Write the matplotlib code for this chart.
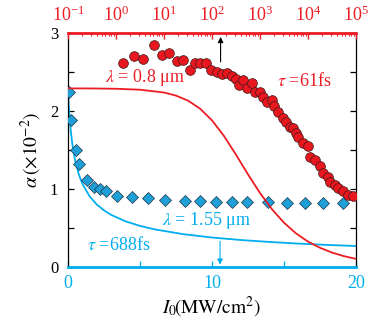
import matplotlib
matplotlib.use("Agg")
import matplotlib.pyplot as plt
from matplotlib.ticker import FixedLocator, MultipleLocator, LogLocator, LogFormatterMathtext, NullFormatter, FuncFormatter

plt.rcParams['font.family'] = ['Liberation Serif', 'DejaVu Serif']
plt.rcParams['mathtext.fontset'] = 'stix'

RED = '#ED1C24'
BLUE = '#00AEEF'

# ---- data: 0.8 um (top log axis) ----
red_I = [1.42, 2.37, 3.6, 6.3, 8.95, 12.9, 18.4, 25.3, 34.8, 44.3, 56.2, 75, 95.3,
         125, 159, 202, 257, 316, 371, 449, 528, 692, 787, 1000, 1173, 1380, 1754,
         1958, 2405, 3057, 3500, 4217, 4943, 5600, 6285, 7980, 10140, 11010, 14000,
         17780, 20850, 26500, 28700, 36500, 42800, 54300, 69200, 87900]
red_alpha = [2.62, 2.71, 2.67, 2.85, 2.72, 2.75, 2.64, 2.65, 2.53, 2.61, 2.62, 2.61, 2.53,
             2.50, 2.48, 2.49, 2.45, 2.41, 2.33, 2.40, 2.29, 2.36, 2.25, 2.25, 2.18, 2.12, 2.14,
             2.06, 1.99, 1.91, 1.86, 1.80, 1.78, 1.72, 1.67, 1.59, 1.55, 1.41, 1.37,
             1.29, 1.20, 1.16, 1.09, 1.05, 1.01, 0.97, 0.92, 0.91]
red_fit_I = [0.1, 0.316, 1, 3.16, 10, 17.8, 31.6, 56.2, 100, 178, 316, 562, 1000, 1780,
             3160, 5620, 10000, 17800, 31600, 56200, 100000]
red_fit_alpha = [2.29, 2.289, 2.285, 2.273, 2.237, 2.197, 2.133, 2.031, 1.880, 1.679, 1.440,
                 1.188, 0.948, 0.740, 0.568, 0.431, 0.326, 0.246, 0.185, 0.139, 0.104]

# ---- data: 1.55 um (bottom linear axis) ----
blue_I = [0.07, 0.21, 0.53, 0.79, 1.32, 1.83, 2.22, 2.62, 3.40, 4.47, 5.55, 6.74, 8.10,
          9.15, 10.28, 11.37, 12.41, 13.87, 15.19, 16.46, 17.73, 19.08]
blue_alpha = [2.25, 1.89, 1.50, 1.32, 1.12, 1.03, 1.00, 0.97, 0.91, 0.90, 0.89, 0.86, 0.85,
              0.84, 0.83, 0.83, 0.83, 0.83, 0.82, 0.82, 0.82, 0.82]
blue_fit_I = [0, 0.02, 0.05, 0.1, 0.2, 0.3, 0.4, 0.5, 0.75, 1.0, 1.5, 2.0, 2.5, 3.0, 4.0,
              5.0, 6.0, 8.0, 10, 12, 14, 16, 18, 20]
blue_fit_alpha = [2.25, 2.18, 2.078, 1.940, 1.731, 1.578, 1.462, 1.363, 1.188, 1.067, 0.906,
                  0.801, 0.726, 0.668, 0.585, 0.527, 0.483, 0.421, 0.378, 0.346, 0.321,
                  0.300, 0.283, 0.269]

bottom_ticks = [0, 5, 10, 15, 20]
bottom_labels = {0: '0', 10: '10', 20: '20'}
y_ticks = [0, 1, 2, 3]

arrow_red = (151, 2.63, 2.95)    # top-axis x, y start, y end
arrow_blue = (10.56, 0.33, 0.03)  # bottom-axis x, y start, y end

fig = plt.figure(figsize=(3.74, 3.31), dpi=100)
ax = fig.add_axes([68/374, 1-267/331, 288/374, 234/331])
ax2 = ax.twiny()

# blue on bottom axis
ax.plot(blue_fit_I, blue_fit_alpha, color=BLUE, lw=1.3, zorder=2)
ax.plot(blue_I, blue_alpha, linestyle='none', marker='D', markersize=5.8,
        markerfacecolor='#1E9FD8', markeredgecolor='#1d3445', markeredgewidth=0.5, zorder=3)
ax.set_xlim(0, 20)
ax.set_ylim(0, 3)

# red on top axis
ax2.set_xscale('log')
ax2.plot(red_fit_I, red_fit_alpha, color=RED, lw=1.3, zorder=2)
ax2.plot(red_I, red_alpha, linestyle='none', marker='o', markersize=7.0,
         markerfacecolor='#E8161E', markeredgecolor='#3a1a1a', markeredgewidth=0.5, zorder=3)
ax2.set_xlim(0.1, 1e5)
ax2.set_ylim(0, 3)

# arrows
ax2.annotate('', xy=(arrow_red[0], arrow_red[2]), xytext=(arrow_red[0], arrow_red[1]),
             arrowprops=dict(arrowstyle='-|>', color='black', lw=0.8, mutation_scale=8,
                             shrinkA=0, shrinkB=0))
ax.annotate('', xy=(arrow_blue[0], arrow_blue[2]), xytext=(arrow_blue[0], arrow_blue[1]),
            arrowprops=dict(arrowstyle='-|>', color=BLUE, lw=0.8, mutation_scale=8,
                            shrinkA=0, shrinkB=0))

# spines
for s in ['left', 'right']:
    ax.spines[s].set_color('black')
    ax.spines[s].set_linewidth(0.9)
ax.spines['bottom'].set_color(BLUE)
ax.spines['bottom'].set_linewidth(2.0)
ax.spines['top'].set_visible(False)
for s in ['left', 'right', 'bottom']:
    ax2.spines[s].set_visible(False)
ax2.spines['top'].set_color(RED)
ax2.spines['top'].set_linewidth(2.0)

# bottom ticks
ax.xaxis.set_major_locator(FixedLocator(bottom_ticks))
ax.xaxis.set_major_formatter(FuncFormatter(lambda v, p: bottom_labels.get(int(round(v)), '')))
ax.tick_params(axis='x', direction='in', colors=BLUE, labelsize=13, length=4, width=1, pad=6)

# y ticks
ax.yaxis.set_major_locator(FixedLocator(y_ticks))
ax.yaxis.set_minor_locator(MultipleLocator(0.5))
ax.yaxis.set_ticks_position('both')
ax.tick_params(axis='y', which='both', direction='in', colors='black', labelsize=12,
               length=4, width=0.9, pad=7)

# top log ticks
ax2.xaxis.set_major_locator(LogLocator(base=10, numticks=10))
ax2.xaxis.set_minor_locator(LogLocator(base=10, subs=range(2, 10), numticks=20))
ax2.xaxis.set_major_formatter(LogFormatterMathtext())
ax2.xaxis.set_minor_formatter(NullFormatter())
ax2.tick_params(axis='x', which='major', direction='in', colors=RED, labelsize=13,
                length=4, width=1, pad=6)
ax2.tick_params(axis='x', which='minor', direction='in', colors=RED, length=2.5, width=0.8)
ax2.tick_params(axis='y', left=False, right=False, labelleft=False, labelright=False)

# labels
ax.set_ylabel(r'$\alpha\,\left(\times10^{-2}\right)$', fontsize=14, labelpad=4)
ax.set_xlabel(r'$I_0\!\left(\mathrm{MW/cm^2}\right)$', fontsize=14, labelpad=2)

# annotations
ax.text(0.128, 0.808, r'$\lambda$ = 0.8 μm', transform=ax.transAxes, color=RED,
        fontsize=13, va='center', ha='left')
ax.text(0.725, 0.795, r'$\tau$ =61fs', transform=ax.transAxes, color=RED,
        fontsize=13, va='center', ha='left')
ax.text(0.325, 0.198, r'$\lambda$ = 1.55 μm', transform=ax.transAxes, color=BLUE,
        fontsize=13, va='center', ha='left')
ax.text(0.065, 0.094, r'$\tau$ =688fs', transform=ax.transAxes, color=BLUE,
        fontsize=13, va='center', ha='left')

fig.savefig('out.png', dpi=100)
